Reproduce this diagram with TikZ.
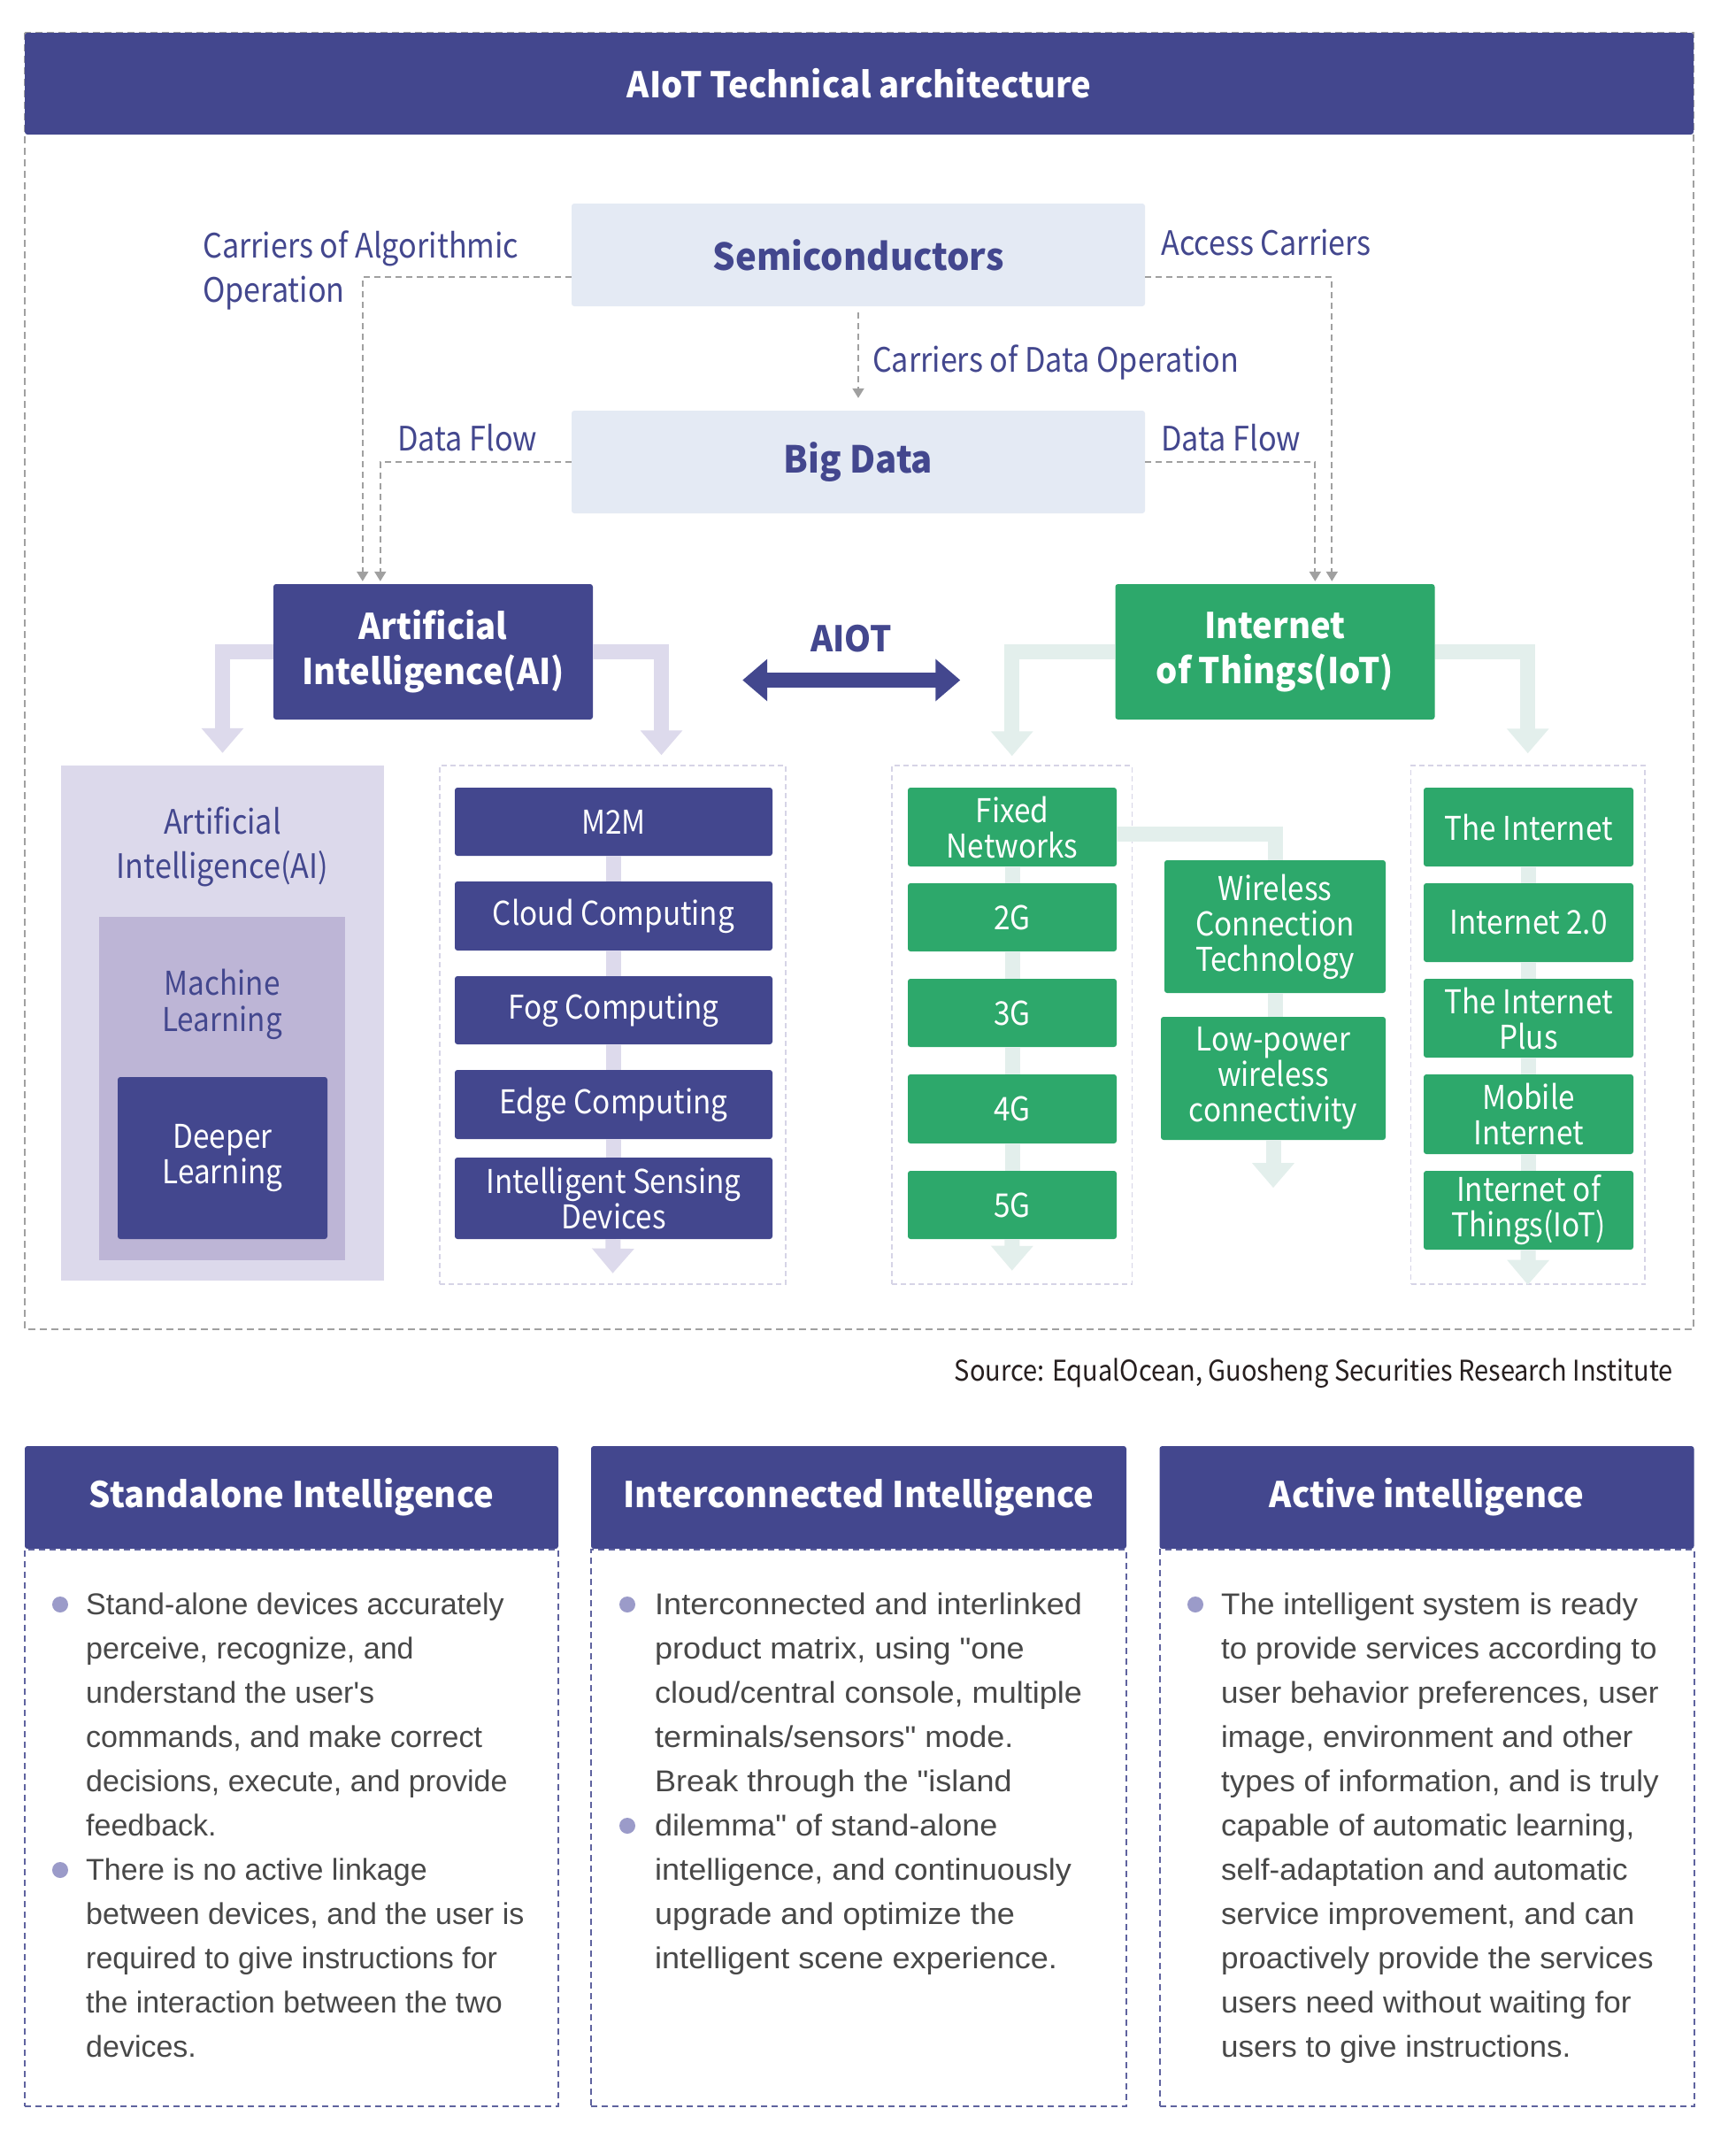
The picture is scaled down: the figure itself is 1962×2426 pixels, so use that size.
\documentclass[tikz,border=0pt]{standalone}
\usepackage{fontspec}
\setmainfont{Noto Sans CJK SC}[FakeStretch=0.9,BoldFeatures={FakeStretch=0.955}]
\newfontfamily\bodyfont{Liberation Sans}
\newfontfamily\bodyfontB{Liberation Sans}[FakeStretch=1.06]
\newfontfamily\bodyfontC{Liberation Sans}[FakeStretch=1.03]
\usetikzlibrary{arrows.meta,positioning}
\definecolor{navy}{RGB}{67,71,142}
\definecolor{leaf}{RGB}{45,168,107}
\definecolor{softblue}{RGB}{228,234,244}
\definecolor{lilac}{RGB}{221,218,236}
\definecolor{lilacpanel}{RGB}{220,217,235}
\definecolor{lilacdeep}{RGB}{189,181,214}
\definecolor{mint}{RGB}{227,239,236}
\definecolor{dashgray}{RGB}{160,160,160}
\definecolor{panelline}{RGB}{214,212,230}
\definecolor{bodygray}{RGB}{72,72,72}
\definecolor{dotlilac}{RGB}{155,155,201}
\definecolor{srcgray}{RGB}{38,30,30}
\newcommand\setfs[2]{\fontsize{#1}{#2}\selectfont}

\begin{document}
\begin{tikzpicture}[x=1pt,y=-1pt,
  bar/.style={fill=navy,text=white,rounded corners=3pt,inner sep=0pt,font=\bfseries\setfs{40}{44}},
  core/.style={fill=softblue,text=navy,rounded corners=3pt,inner sep=0pt,font=\bfseries\setfs{42}{46},minimum width=648,minimum height=116},
  pillar/.style={text=white,rounded corners=3pt,inner sep=0pt,align=center,font=\bfseries\setfs{40}{51},minimum width=361,minimum height=153},
  item/.style={fill=navy,text=white,rounded corners=3pt,inner sep=0pt,align=center,font=\setfs{37}{40}},
  netitem/.style={item,fill=leaf},
  tray/.style={draw=panelline,line width=1.5pt,dash pattern=on 6pt off 4pt,minimum height=586,inner sep=0pt},
  note/.style={text=navy,inner sep=0pt,align=left,font=\setfs{38}{50}},
  carrier/.style={draw=dashgray,line width=2pt,dash pattern=on 7pt off 5pt,-{Triangle[width=13pt,length=11pt]}},
  shaft/.style={line width=17pt},
  flow/.style={shaft,-{Triangle[width=46pt,length=28pt]}},
  colbody/.style={draw=navy!85,line width=2pt,dash pattern=on 7pt off 5pt,inner sep=0pt,minimum width=603,minimum height=629},
  dot/.style={circle,fill=dotlilac,inner sep=0pt,minimum size=18},
  bullets/.style={anchor=north west,inner sep=0pt,align=left,text=bodygray,font=\bodyfont\setfs{34}{50}}]

  \fill[white] (0,0) rectangle (1962,2426);
  \useasboundingbox (0,0) rectangle (1962,2426);

  % architecture frame
  \draw[dashgray,line width=2pt,dash pattern=on 8pt off 5pt] (28,37) rectangle (1914,1502);
  \node[bar,minimum width=1886,minimum height=115] (title) at (971,94.5) {AIoT Technical architecture};

  \node[core] (semi) at (970,288) {Semiconductors};
  \node[core] (bigdata) at (970,522) {Big Data};
  \node[pillar,fill=navy] (ai) at (489.5,736.5) {Artificial\\Intelligence(AI)};
  \node[pillar,fill=leaf] (iot) at (1441,736.5) {Internet\\of Things(IoT)};

  % carriers
  \draw[carrier] ([yshift=-25pt]semi.west) -| ([xshift=101pt,yshift=3pt]ai.north west);
  \draw[carrier] (bigdata.west) -| ([xshift=121pt,yshift=3pt]ai.north west);
  \draw[carrier] ([yshift=-25pt]semi.east) -| ([xshift=245pt,yshift=3pt]iot.north west);
  \draw[carrier] (bigdata.east) -| ([xshift=226pt,yshift=3pt]iot.north west);
  \draw[carrier] ([yshift=-7pt]semi.south) -- ([yshift=14pt]bigdata.north)
    node[note,midway,anchor=west,xshift=15pt,yshift=-8pt] (dataop) {Carriers of Data Operation};

  \node[note,anchor=west] (algo) at (229,305) {Carriers of Algorithmic\\Operation};
  \node[note,anchor=west] (access) at (1312,274) {Access Carriers};
  \node[note,anchor=west] (flowL) at (449,495) {Data Flow};
  \node[note,anchor=west] (flowR) at (1312,495) {Data Flow};

  \draw[navy,shaft,{Triangle[width=46pt,length=28pt]}-{Triangle[width=46pt,length=28pt]}]
    ([xshift=169pt,yshift=-32pt]ai.east) -- ([xshift=-175pt,yshift=-32pt]iot.west)
    node[midway,above=23pt,inner sep=0pt,text=navy,font=\bfseries\setfs{40}{44}] (aiot) {AIOT};

  % AI side
  \node[fill=lilacpanel,inner sep=0pt,minimum width=365,minimum height=582] (aipanel) at (251.5,1156) {};
  \node[note,align=center] (aihead) at (251.5,957) {Artificial\\Intelligence(AI)};
  \node[fill=lilacdeep,inner sep=0pt,minimum width=278,minimum height=388] (ml) at (251,1230) {};
  \node[note,align=center,font=\setfs{37}{41}] (mlhead) at (251,1135) {Machine\\Learning};
  \node[item,minimum width=237,minimum height=183] (dl) at (251.5,1308.5) {Deeper\\Learning};

  \node[tray,minimum width=391] (cpanel) at (692.5,1158) {};
  \node[item,minimum width=359,minimum height=77] (m2m) at (693.5,928.5) {M2M};
  \node[item,minimum width=359,minimum height=78] (cloud) at (693.5,1035) {Cloud Computing};
  \node[item,minimum width=359,minimum height=77] (fog) at (693.5,1141.5) {Fog Computing};
  \node[item,minimum width=359,minimum height=78] (edge) at (693.5,1248) {Edge Computing};
  \node[item,minimum width=359,minimum height=92] (sense) at (693.5,1354) {Intelligent Sensing\\Devices};

  \draw[lilac,flow] (ai.west) -| ([yshift=14pt]aipanel.north);
  \draw[lilac,flow] (ai.east) -| ([xshift=55pt,yshift=11pt]cpanel.north);
  \foreach \a/\b in {m2m/cloud,cloud/fog,fog/edge,edge/sense}
    \draw[lilac,shaft] (\a) -- (\b);
  \draw[lilac,flow] (sense) -- ([yshift=13pt]cpanel.south);

  % IoT side
  \node[tray,minimum width=271.5] (netpanel) at (1143.75,1158) {};
  \node[netitem,minimum width=236,minimum height=89] (fixed) at (1144,934.5) {Fixed\\Networks};
  \node[netitem,minimum width=236,minimum height=77] (g2) at (1144,1036.5) {2G};
  \node[netitem,minimum width=236,minimum height=77] (g3) at (1144,1144.5) {3G};
  \node[netitem,minimum width=236,minimum height=78] (g4) at (1144,1253) {4G};
  \node[netitem,minimum width=236,minimum height=77] (g5) at (1144,1361.5) {5G};

  \node[netitem,minimum width=250,minimum height=150] (wireless) at (1441,1047) {Wireless\\Connection\\Technology};
  \node[netitem,minimum width=254,minimum height=139] (lowpower) at (1439,1218.5) {Low-power\\wireless\\connectivity};

  \node[tray,minimum width=264.5] (webpanel) at (1726.75,1158) {};
  \node[netitem,minimum width=237,minimum height=89] (web1) at (1727.5,934.5) {The Internet};
  \node[netitem,minimum width=237,minimum height=89] (web2) at (1727.5,1042.5) {Internet 2.0};
  \node[netitem,minimum width=237,minimum height=89] (web3) at (1727.5,1150.5) {The Internet\\Plus};
  \node[netitem,minimum width=237,minimum height=90] (web4) at (1727.5,1259) {Mobile\\Internet};
  \node[netitem,minimum width=237,minimum height=89] (web5) at (1727.5,1367.5) {Internet of\\Things(IoT)};

  \draw[mint,flow] (iot.west) -| ([yshift=10pt]netpanel.north);
  \draw[mint,flow] (iot.east) -| ([yshift=13pt]webpanel.north);
  \foreach \a/\b in {fixed/g2,g2/g3,g3/g4,g4/g5,web1/web2,web2/web3,web3/web4,web4/web5}
    \draw[mint,shaft] (\a) -- (\b);
  \draw[mint,flow] (g5) -- ([yshift=16pt]netpanel.south);
  \draw[mint,flow] (web5) -- (webpanel.south);
  \draw[mint,shaft] ([yshift=-7.5pt]fixed.east) -| (wireless.north);
  \draw[mint,shaft] (wireless.south) -- (wireless.south |- lowpower.north);
  \draw[mint,flow] (lowpower.south) -- ([yshift=-54pt]lowpower.south);

  \node[anchor=east,inner sep=0pt,text=srcgray,font=\setfs{32.2}{36}] (source) at (1891,1552)
    {Source: EqualOcean, Guosheng Securities Research Institute};

  % three stages
  \node[bar,minimum width=603,minimum height=116] (standalone) at (329.5,1692) {Standalone Intelligence};
  \node[bar,minimum width=605,minimum height=116] (connected) at (970.5,1692) {Interconnected Intelligence};
  \node[bar,minimum width=604,minimum height=116] (active) at (1612.5,1692) {Active intelligence};
  \node[colbody,anchor=north] (standalonebody) at (standalone.south) {};
  \node[colbody,anchor=north,minimum width=605] (connectedbody) at (connected.south) {};
  \node[colbody,anchor=north,minimum width=604] (activebody) at (active.south) {};

  \node[dot] (dotA1) at (68,1813) {};
  \node[dot] (dotA2) at (68,2113) {};
  \node[dot] (dotB1) at (709,1813) {};
  \node[dot] (dotB2) at (709,2063) {};
  \node[dot] (dotC1) at (1351,1813) {};

  \node[bullets] (standalonetext) at (97,1800) {Stand-alone devices accurately\\perceive, recognize, and\\understand the user's\\commands, and make correct\\decisions, execute, and provide\\feedback.\\There is no active linkage\\between devices, and the user is\\required to give instructions for\\the interaction between the two\\devices.};
  \node[bullets,font=\bodyfontB\setfs{34}{50}] (connectedtext) at (740,1800) {Interconnected and interlinked\\product matrix, using "one\\cloud/central console, multiple\\terminals/sensors" mode.\\Break through the "island\\dilemma" of stand-alone\\intelligence, and continuously\\upgrade and optimize the\\intelligent scene experience.};
  \node[bullets,font=\bodyfontC\setfs{34}{50}] (activetext) at (1380,1800) {The intelligent system is ready\\to provide services according to\\user behavior preferences, user\\image, environment and other\\types of information, and is truly\\capable of automatic learning,\\self-adaptation and automatic\\service improvement, and can\\proactively provide the services\\users need without waiting for\\users to give instructions.};
\end{tikzpicture}
\end{document}
